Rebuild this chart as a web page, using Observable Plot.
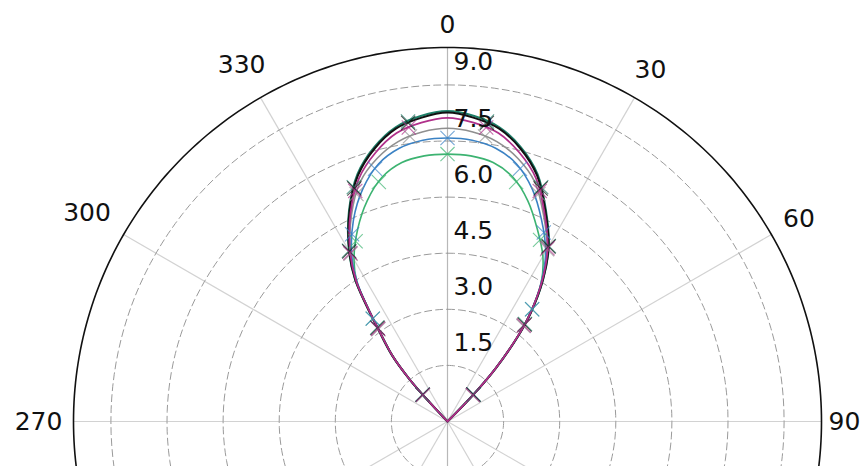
<!DOCTYPE html>
<html><head><meta charset="utf-8">
<script src="https://cdn.jsdelivr.net/npm/d3@7"></script>
<script src="https://cdn.jsdelivr.net/npm/@observablehq/plot@0.6"></script>
<style>body{margin:0;background:#fff;overflow:hidden} #chart{width:864px;height:466px;overflow:hidden}</style>
</head><body><div id="chart"></div>
<script>
// angle (degrees, clockwise from 0 at top) shared by all curves
const angles = [-46, -42.8, -42, -40, -37, -35, -33, -30, -25, -20, -15, -10, -5, 0, 5, 10, 15, 20, 25, 30, 34, 37.5, 39.5, 42.2, 43.9, 46];
const rBlack   = [0, 0.98, 1.52, 2.29, 3.05, 3.76, 4.53, 5.25, 6.2, 7.0, 7.55, 7.95, 8.15, 8.26, 8.15, 7.95, 7.55, 7.0, 6.2, 5.4, 4.55, 3.64, 2.98, 1.91, 1.0, 0];
const rTeal    = [0, 0.99, 1.54, 2.31, 3.07, 3.78, 4.55, 5.27, 6.23, 7.04, 7.59, 7.99, 8.2, 8.3, 8.2, 7.99, 7.59, 7.04, 6.23, 5.42, 4.57, 3.66, 3.0, 1.92, 1.01, 0];
const rMagenta = [0, 0.97, 1.5, 2.27, 3.03, 3.73, 4.49, 5.2, 6.14, 6.92, 7.44, 7.83, 8.02, 8.12, 8.02, 7.83, 7.44, 6.92, 6.14, 5.35, 4.52, 3.62, 2.96, 1.9, 0.99, 0];
const rGray    = [0, 0.96, 1.49, 2.25, 3.01, 3.71, 4.47, 5.18, 6.08, 6.82, 7.28, 7.6, 7.77, 7.84, 7.77, 7.6, 7.28, 6.82, 6.08, 5.32, 4.5, 3.6, 2.95, 1.89, 0.98, 0];
const rBlue    = [0, 0.98, 1.51, 2.27, 3.02, 3.7, 4.43, 5.12, 5.95, 6.62, 7.13, 7.42, 7.55, 7.58, 7.55, 7.42, 7.13, 6.62, 5.95, 5.25, 4.48, 3.62, 2.96, 1.9, 0.99, 0];
const rGreen   = [0, 0.98, 1.5, 2.26, 3.0, 3.68, 4.45, 5.0, 5.68, 6.28, 6.76, 7.03, 7.13, 7.15, 7.13, 7.03, 6.76, 6.28, 5.68, 5.1, 4.48, 3.6, 2.95, 1.89, 0.98, 0];

// marker (data point) positions
const markAnglesA = [-42.8, -36.8, -30, -21.8, -7.5, 7.5, 21.8, 30, 38.5, 43.9];
const mBlack   = [0.98, 3.12, 5.25, 6.71, 8.05, 8.05, 6.71, 5.4, 3.31, 1.0];
const mTeal    = [0.98, 3.14, 5.27, 6.75, 8.09, 8.09, 6.75, 5.42, 3.33, 1.0];
const mMagenta = [0.97, 3.1, 5.2, 6.64, 7.93, 7.93, 6.64, 5.35, 3.28, 0.98];
const mGray    = [0.96, 3.08, 5.18, 6.55, 7.69, 7.69, 6.55, 5.32, 3.26, 0.97];
const markAnglesB = [-42.8, -36, -27, -16, 0, 16, 27, 37, 43.9];
const mBlue    = [0.98, 3.4, 5.62, 7.03, 7.58, 7.03, 5.67, 3.76, 1.0];
const mGreen   = [0.98, 3.4, 5.41, 6.66, 7.15, 6.66, 5.45, 3.76, 1.0];

const ringValues = [1.5, 3.0, 4.5, 6.0, 7.5, 9.0];
const ringLabels = ["1.5", "3.0", "4.5", "6.0", "7.5", "9.0"];
const rMax = 10;
const spokeAngles = [0, 30, 60, 90, 120, 150, 180, 210, 240, 270, 300, 330];
// angle labels visible in the picture
const labelAngles = [0, 30, 60, 90, 270, 300, 330];
const labelTexts = ["0", "30", "60", "90", "270", "300", "330"];

const series = [
  {name: "gray",    r: rGray,    m: mGray,    ma: markAnglesA, color: "#8f8f8f", w: 1.6},
  {name: "green",   r: rGreen,   m: mGreen,   ma: markAnglesB, color: "#3cb371", w: 1.6},
  {name: "blue",    r: rBlue,    m: mBlue,    ma: markAnglesB, color: "#3b82c4", w: 1.6},
  {name: "teal",    r: rTeal,    m: mTeal,    ma: markAnglesA, color: "#1d7f68", w: 2},
  {name: "black",   r: rBlack,   m: mBlack,   ma: markAnglesA, color: "#111111", w: 2},
  {name: "magenta", r: rMagenta, m: mMagenta, ma: markAnglesA, color: "#b0308a", w: 1.8}
];

const W = 864, H = 466, CX = 447, CY = 421, RPX = 374;
const k = RPX / rMax;
const rad = d => d * Math.PI / 180;
const px = (a, r) => r * Math.sin(rad(a));
const py = (a, r) => r * Math.cos(rad(a));

const ringPts = ringValues.flatMap(v => d3.range(0, 361, 2).map(a => ({v, x: px(a, v), y: py(a, v)})));
const outerPts = d3.range(0, 361, 1).map(a => ({x: px(a, rMax), y: py(a, rMax)}));

const fontFamily = "DejaVu Sans";
const fs = 25;
const angLabelData = labelAngles.map((a, i) => {
  const lab = labelTexts[i];
  const hw = lab.length * 0.636 * fs / 2;
  const s = Math.abs(Math.sin(rad(a))), c = Math.abs(Math.cos(rad(a)));
  const rp = (373 + 1.51 * hw * s + 24 * c) / k;
  return {lab, x: px(a, rp), y: py(a, rp)};
});

const marks = [
  Plot.link(spokeAngles, {x1: 0, y1: 0, x2: a => px(a, rMax), y2: a => py(a, rMax),
    stroke: a => (a === 0 || a === 180) ? "#b8b8b8" : "#d2d2d2", strokeWidth: 1.2}),
  Plot.line(ringPts, {x: "x", y: "y", z: "v", stroke: "#9a9a9a", strokeWidth: 1, strokeDasharray: "7,4"}),
  Plot.line(outerPts, {x: "x", y: "y", stroke: "#111", strokeWidth: 1.6})
];

for (const s of series) {
  const rows = angles.map((a, i) => ({x: px(a, s.r[i]), y: py(a, s.r[i])}));
  marks.push(Plot.line(rows, {x: "x", y: "y", stroke: s.color, strokeWidth: s.w, curve: "catmull-rom"}));
}
for (const s of series) {
  const pts = s.ma.map((a, i) => ({x: px(a, s.m[i]), y: py(a, s.m[i])}));
  marks.push(Plot.dot(pts, {x: "x", y: "y", symbol: "times", r: 6.5, stroke: s.color, strokeWidth: 1.1, strokeOpacity: 0.7}));
}

marks.push(Plot.text(ringValues.map((v, i) => ({v, lab: ringLabels[i]})), {
  x: 0, y: d => d.v + 0.6, text: "lab", dx: 6, textAnchor: "start", lineAnchor: "middle",
  fontSize: fs, fontFamily, fill: "#111"}));
marks.push(Plot.text(angLabelData, {x: "x", y: "y", text: "lab", textAnchor: "middle", lineAnchor: "middle",
  fontSize: fs, fontFamily, fill: "#111"}));

const chart = Plot.plot({
  width: W, height: H, margin: 0,
  x: {type: "linear", domain: [-rMax, rMax], range: [CX - RPX, CX + RPX], axis: null},
  y: {type: "linear", domain: [-rMax, rMax], range: [CY + RPX, CY - RPX], axis: null},
  style: {background: "#fff", overflow: "hidden"},
  marks
});
document.getElementById("chart").appendChild(chart);
</script>
</body></html>
